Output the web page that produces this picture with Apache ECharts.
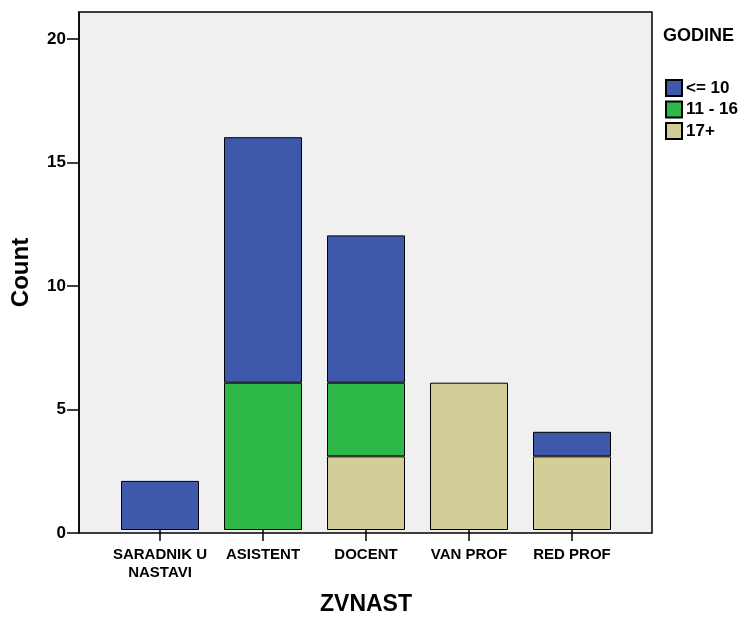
<!DOCTYPE html>
<html>
<head>
<meta charset="utf-8">
<script src="https://cdn.jsdelivr.net/npm/echarts@6/dist/echarts.min.js"></script>
<style>
html,body{margin:0;padding:0;background:#fff;}
#chart{width:744px;height:621px;}
</style>
</head>
<body>
<div id="chart"></div>
<script>
const categories = ['SARADNIK U\nNASTAVI', 'ASISTENT', 'DOCENT', 'VAN PROF', 'RED PROF'];
const seriesNames = ['<= 10', '11 - 16', '17+'];
const valsLe10 = [2, 10, 6, 0, 1];
const vals11to16 = [0, 6, 3, 0, 0];
const vals17plus = [0, 0, 3, 6, 3];
const yTicks = [0, 5, 10, 15, 20];
const yMax = 21.1;

const FONT = "'Liberation Sans', Arial, sans-serif";
const colors = {'<= 10': '#3E58AC', '11 - 16': '#2EB848', '17+': '#D3CE97'};
const nz = a => a.map(v => v === 0 ? '-' : v);

const chart = echarts.init(document.getElementById('chart'), null, {renderer: 'canvas'});

function mkSeries(name, vals) {
  return {
    name: name, type: 'bar', stack: 'total',
    xAxisIndex: 1, yAxisIndex: 1,
    barWidth: 78,
    data: nz(vals),
    itemStyle: {color: colors[name], borderColor: '#000', borderWidth: 1},
    emphasis: {disabled: true}
  };
}

chart.setOption({
  animation: false,
  title: {
    text: 'GODINE', left: 658, top: 22,
    textStyle: {fontFamily: FONT, fontWeight: 'bold', fontSize: 18, color: '#000'}
  },
  legend: {
    data: seriesNames,
    orient: 'vertical', left: 660, top: 74,
    itemWidth: 16, itemHeight: 16, itemGap: 3.5,
    icon: 'rect',
    selectedMode: false,
    textStyle: {fontFamily: FONT, fontWeight: 'bold', fontSize: 17, lineHeight: 16, color: '#000', padding: [0,0,0,-1]}
  },
  grid: [
    {left: 79, right: 92, top: 12, bottom: 88, show: true, backgroundColor: '#F0F0F0', borderColor: '#000', borderWidth: 1.5},
    {left: 108.5, width: 515, top: 12, bottom: 88, show: false}
  ],
  xAxis: [
    {gridIndex: 0, type: 'value', show: false, min: 0, max: 1},
    {
      gridIndex: 1, type: 'category', data: categories,
      axisLine: {show: false},
      axisTick: {show: true, alignWithLabel: true, length: 11, lineStyle: {color: '#000', width: 1.5}},
      axisLabel: {margin: 16, color: '#000', fontFamily: FONT, fontWeight: 'bold', fontSize: 15, lineHeight: 18, interval: 0},
      name: 'ZVNAST', nameLocation: 'middle', nameGap: 63,
      nameTextStyle: {fontFamily: FONT, fontWeight: 'bold', fontSize: 23, color: '#000'}
    }
  ],
  yAxis: [
    {
      gridIndex: 0, type: 'value', min: 0, max: yMax,
      axisLine: {show: true, lineStyle: {color: '#000', width: 1.5}},
      axisTick: {show: true, length: 12, customValues: yTicks, lineStyle: {color: '#000', width: 1.5}},
      axisLabel: {customValues: yTicks, margin: 13, color: '#000', fontFamily: FONT, fontWeight: 'bold', fontSize: 17},
      splitLine: {show: false},
      name: 'Count', nameLocation: 'middle', nameGap: 46,
      nameTextStyle: {fontFamily: FONT, fontWeight: 'bold', fontSize: 24, color: '#000'}
    },
    {gridIndex: 1, type: 'value', min: 0, max: yMax, show: false}
  ],
  series: [
    mkSeries('17+', vals17plus),
    mkSeries('11 - 16', vals11to16),
    mkSeries('<= 10', valsLe10)
  ]
});
</script>
</body>
</html>
